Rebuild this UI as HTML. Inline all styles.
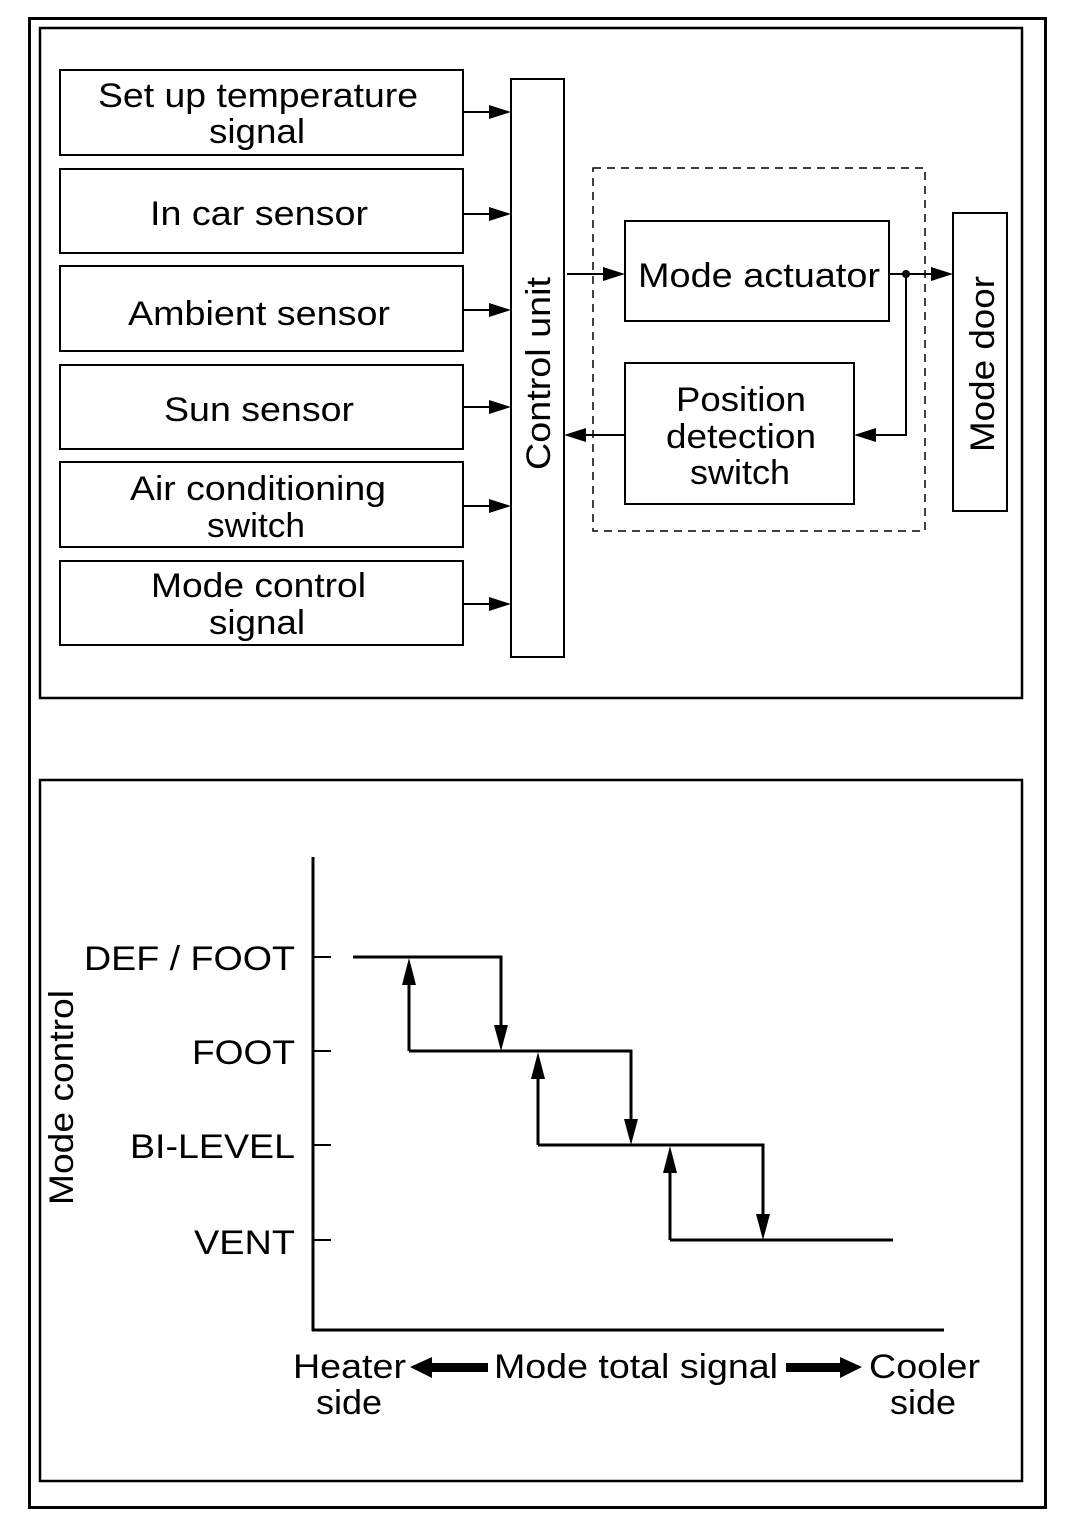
<!DOCTYPE html>
<html><head><meta charset="utf-8"><style>html,body{margin:0;padding:0;background:#fff}svg{display:block}text{font-family:"Liberation Sans",sans-serif;font-size:34px;fill:#000}</style></head>
<body>
<svg width="1072" height="1526" viewBox="0 0 1072 1526" xmlns="http://www.w3.org/2000/svg">
<g fill="none" stroke="#000">
<rect x="29.5" y="18.5" width="1016" height="1489" stroke-width="3"/>
<rect x="40" y="28" width="982" height="670" stroke-width="2.5"/>
<rect x="40" y="780" width="982" height="701" stroke-width="2.5"/>
<g stroke-width="2">
<rect x="60" y="70" width="403" height="85"/>
<rect x="60" y="169" width="403" height="84"/>
<rect x="60" y="266" width="403" height="85"/>
<rect x="60" y="365" width="403" height="84"/>
<rect x="60" y="462" width="403" height="85"/>
<rect x="60" y="561" width="403" height="84"/>
<rect x="511" y="79" width="53" height="578"/>
<rect x="625" y="221" width="264" height="100"/>
<rect x="625" y="363" width="229" height="141"/>
<rect x="953" y="213" width="54" height="298"/>
</g>
<rect x="593" y="168" width="332" height="363" stroke-width="1.5" stroke-dasharray="8,6"/>
<g stroke-width="2">
<line x1="463" y1="112" x2="500" y2="112"/>
<line x1="463" y1="214" x2="500" y2="214"/>
<line x1="463" y1="310" x2="500" y2="310"/>
<line x1="463" y1="407" x2="500" y2="407"/>
<line x1="463" y1="506" x2="500" y2="506"/>
<line x1="463" y1="604" x2="500" y2="604"/>
<line x1="567" y1="274" x2="612" y2="274"/>
<line x1="889" y1="274" x2="940" y2="274"/>
<polyline points="906,274 906,435 866,435"/>
<line x1="625" y1="435" x2="576" y2="435"/>
</g>
<g stroke-width="3">
<line x1="313" y1="857" x2="313" y2="1331"/>
<line x1="312" y1="1330" x2="944" y2="1330"/>
<line x1="313" y1="957" x2="331" y2="957" stroke-width="2"/>
<line x1="313" y1="1051" x2="331" y2="1051" stroke-width="2"/>
<line x1="313" y1="1145" x2="331" y2="1145" stroke-width="2"/>
<line x1="313" y1="1240" x2="331" y2="1240" stroke-width="2"/>
<polyline points="353,957 501,957 501,1030"/>
<polyline points="409,1051 409,980"/>
<polyline points="409,1051 631,1051 631,1124"/>
<polyline points="538,1145 538,1074"/>
<polyline points="538,1145 763,1145 763,1219"/>
<polyline points="670,1240 670,1168"/>
<polyline points="670,1240 893,1240"/>
</g>
</g>
<g fill="#000">
<path d="M489,105 L511,112 L489,119 Z"/>
<path d="M489,207 L511,214 L489,221 Z"/>
<path d="M489,303 L511,310 L489,317 Z"/>
<path d="M489,400 L511,407 L489,414 Z"/>
<path d="M489,499 L511,506 L489,513 Z"/>
<path d="M489,597 L511,604 L489,611 Z"/>
<path d="M603,267 L625,274 L603,281 Z"/>
<path d="M931,267 L953,274 L931,281 Z"/>
<path d="M876,428 L854,435 L876,442 Z"/>
<path d="M586,428 L564,435 L586,442 Z"/>
<circle cx="906" cy="274" r="4"/>
<path d="M494,1025 L501,1051 L508,1025 Z"/>
<path d="M402,985 L409,958 L416,985 Z"/>
<path d="M624,1119 L631,1145 L638,1119 Z"/>
<path d="M531,1079 L538,1052 L545,1079 Z"/>
<path d="M756,1214 L763,1240 L770,1214 Z"/>
<path d="M663,1173 L670,1146 L677,1173 Z"/>
<path d="M410,1367 L432,1357 L432,1363 L488,1363 L488,1372 L432,1372 L432,1378 Z"/>
<path d="M862,1367 L840,1357 L840,1363 L786,1363 L786,1372 L840,1372 L840,1378 Z"/>
</g>
<g text-anchor="start">
<text x="98" y="107" textLength="320" lengthAdjust="spacingAndGlyphs">Set up temperature</text>
<text x="209" y="143" textLength="96" lengthAdjust="spacingAndGlyphs">signal</text>
<text x="150" y="225" textLength="218" lengthAdjust="spacingAndGlyphs">In car sensor</text>
<text x="128" y="325" textLength="262" lengthAdjust="spacingAndGlyphs">Ambient sensor</text>
<text x="164" y="421" textLength="190" lengthAdjust="spacingAndGlyphs">Sun sensor</text>
<text x="130" y="500" textLength="256" lengthAdjust="spacingAndGlyphs">Air conditioning</text>
<text x="207" y="537" textLength="98" lengthAdjust="spacingAndGlyphs">switch</text>
<text x="151" y="597" textLength="215" lengthAdjust="spacingAndGlyphs">Mode control</text>
<text x="209" y="634" textLength="96" lengthAdjust="spacingAndGlyphs">signal</text>
<text x="638" y="287" textLength="242" lengthAdjust="spacingAndGlyphs">Mode actuator</text>
<text x="676" y="411" textLength="130" lengthAdjust="spacingAndGlyphs">Position</text>
<text x="666" y="448" textLength="150" lengthAdjust="spacingAndGlyphs">detection</text>
<text x="690" y="484" textLength="100" lengthAdjust="spacingAndGlyphs">switch</text>
<text transform="translate(550,470) rotate(-90)" textLength="193" lengthAdjust="spacingAndGlyphs">Control unit</text>
<text transform="translate(994,452) rotate(-90)" textLength="176" lengthAdjust="spacingAndGlyphs">Mode door</text>
<text transform="translate(73,1205) rotate(-90)" textLength="215" lengthAdjust="spacingAndGlyphs">Mode control</text>
<text x="84" y="970" textLength="211" lengthAdjust="spacingAndGlyphs">DEF / FOOT</text>
<text x="192" y="1064" textLength="103" lengthAdjust="spacingAndGlyphs">FOOT</text>
<text x="130" y="1158" textLength="165" lengthAdjust="spacingAndGlyphs">BI-LEVEL</text>
<text x="194" y="1254" textLength="101" lengthAdjust="spacingAndGlyphs">VENT</text>
<text x="293" y="1378" textLength="113" lengthAdjust="spacingAndGlyphs">Heater</text>
<text x="316" y="1414" textLength="66" lengthAdjust="spacingAndGlyphs">side</text>
<text x="494" y="1378" textLength="284" lengthAdjust="spacingAndGlyphs">Mode total signal</text>
<text x="869" y="1378" textLength="111" lengthAdjust="spacingAndGlyphs">Cooler</text>
<text x="890" y="1414" textLength="66" lengthAdjust="spacingAndGlyphs">side</text>
</g>
</svg>
</body></html>
